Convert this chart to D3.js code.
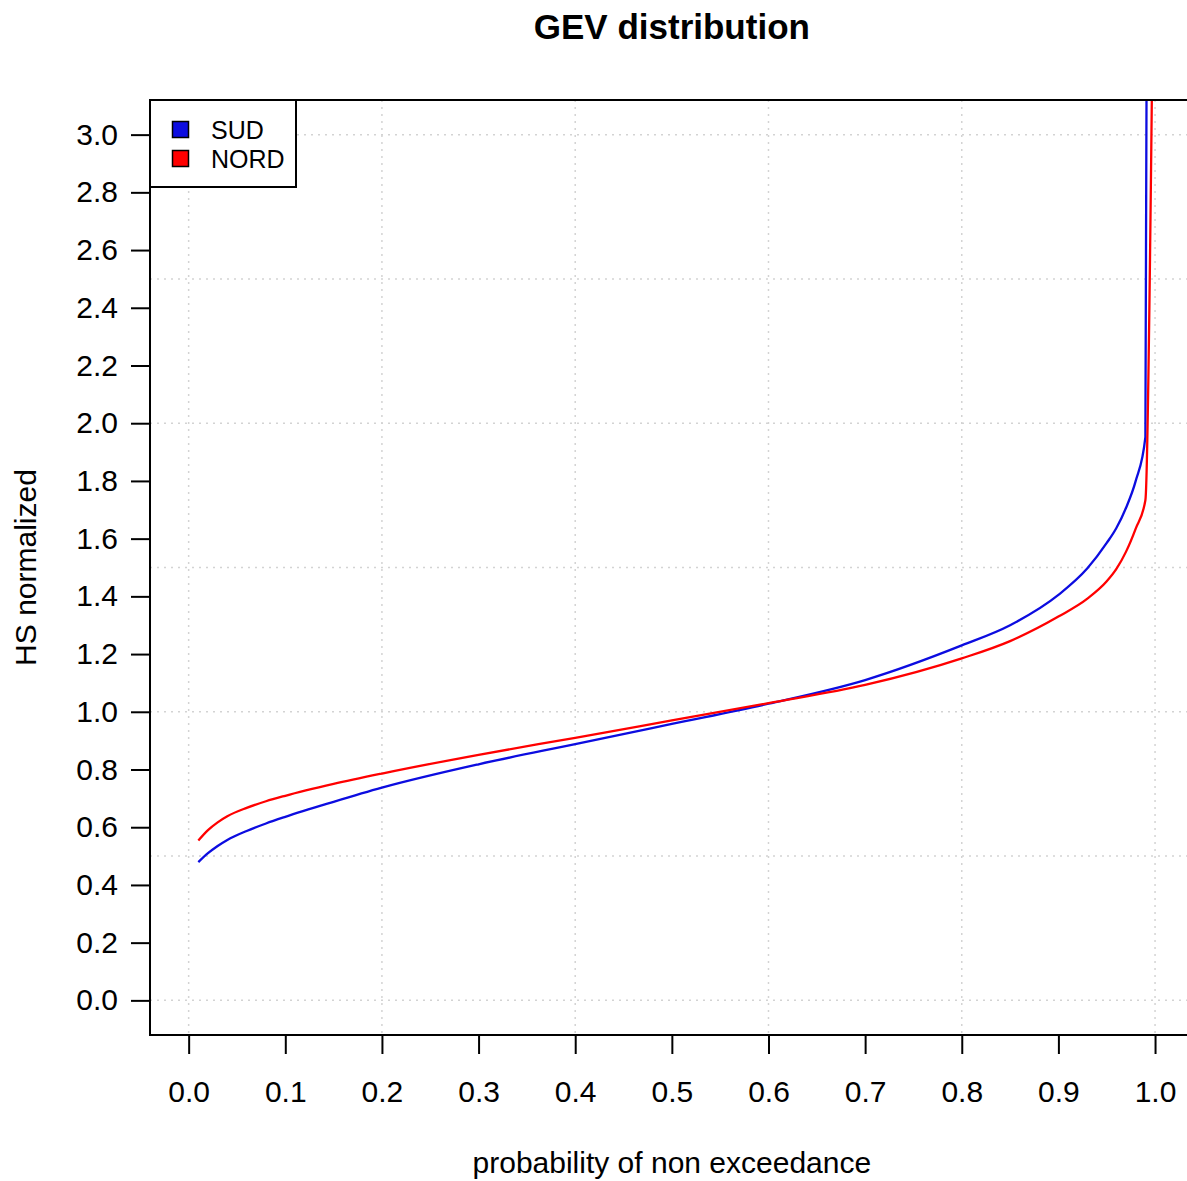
<!DOCTYPE html>
<html>
<head>
<meta charset="utf-8">
<script src="https://cdn.jsdelivr.net/npm/d3@7"></script>
<style>
  body { margin: 0; background: #fff; }
  svg text { font-family: "Liberation Sans", Arial, Helvetica, sans-serif; fill: #000; }
</style>
</head>
<body>
<div id="chart"></div>
<script>
// probabilities of non exceedance and normalized HS quantiles
var probs = [0.01, 0.02, 0.03, 0.04, 0.06, 0.08, 0.10, 0.15, 0.20, 0.30, 0.40, 0.50,
             0.60, 0.70, 0.80, 0.85, 0.90, 0.93, 0.95, 0.96, 0.97, 0.98, 0.99, 0.999];
var sud  = [0.479, 0.510, 0.535, 0.556, 0.587, 0.613, 0.636, 0.688, 0.737, 0.818, 0.888, 0.958,
            1.028, 1.110, 1.230, 1.300, 1.405, 1.497, 1.585, 1.637, 1.707, 1.800, 1.952, 11.0];
var nord = [0.554, 0.590, 0.617, 0.638, 0.667, 0.690, 0.709, 0.750, 0.786, 0.851, 0.910, 0.970,
            1.030, 1.093, 1.185, 1.245, 1.330, 1.392, 1.452, 1.495, 1.555, 1.635, 1.733, 3.9];

var seriesNames = ["SUD", "NORD"];
var seriesColors = ["#0c0ce0", "#ff0000"];

var xTicks = [0, 0.1, 0.2, 0.3, 0.4, 0.5, 0.6, 0.7, 0.8, 0.9, 1.0];
var yTicks = [0, 0.2, 0.4, 0.6, 0.8, 1.0, 1.2, 1.4, 1.6, 1.8, 2.0, 2.2, 2.4, 2.6, 2.8, 3.0];
var xGrid = [0, 0.2, 0.4, 0.6, 0.8, 1.0];
var yGrid = [0, 0.5, 1.0, 1.5, 2.0, 2.5, 3.0];

var width = 1187, height = 1181;
// plot region edges (right edge falls just outside the picture)
var pLeft = 150, pTop = 100, pBottom = 1035, pRight = 1193.7;

var svg = d3.select("#chart").append("svg")
    .attr("width", width)
    .attr("height", height);

var x = d3.scaleLinear().domain([-0.04, 1.04]).range([pLeft, pRight]);
var y = d3.scaleLinear().domain([-0.12, 3.12]).range([pBottom, pTop]);

svg.append("defs").append("clipPath")
    .attr("id", "plotclip")
    .append("rect")
    .attr("x", pLeft).attr("y", pTop)
    .attr("width", pRight - pLeft).attr("height", pBottom - pTop);

// dotted grid
var grid = svg.append("g")
    .attr("stroke", "#d3d3d3")
    .attr("stroke-width", 1.5)
    .attr("stroke-dasharray", "2,5");

grid.selectAll(".vg")
    .data(xGrid)
    .enter()
    .append("line")
    .attr("x1", function(d) { return x(d); })
    .attr("x2", function(d) { return x(d); })
    .attr("y1", pTop)
    .attr("y2", pBottom);

grid.selectAll(".hg")
    .data(yGrid)
    .enter()
    .append("line")
    .attr("x1", pLeft)
    .attr("x2", pRight)
    .attr("y1", function(d) { return y(d); })
    .attr("y2", function(d) { return y(d); });

// curves
var line = d3.line()
    .curve(d3.curveMonotoneX)
    .x(function(d) { return x(d[0]); })
    .y(function(d) { return y(d[1]); });

var curves = svg.append("g").attr("clip-path", "url(#plotclip)");
[sud, nord].forEach(function(vals, i) {
    curves.append("path")
        .datum(probs.map(function(p, j) { return [p, vals[j]]; }))
        .attr("fill", "none")
        .attr("stroke", seriesColors[i])
        .attr("stroke-width", 2.3)
        .attr("stroke-linejoin", "round")
        .attr("d", line);
});

// axes
var xAxis = svg.append("g")
    .attr("transform", "translate(0," + pBottom + ")")
    .call(d3.axisBottom(x)
        .tickValues(xTicks)
        .tickFormat(d3.format(".1f"))
        .tickSize(19)
        .tickPadding(27));

var yAxis = svg.append("g")
    .attr("transform", "translate(" + pLeft + ",0)")
    .call(d3.axisLeft(y)
        .tickValues(yTicks)
        .tickFormat(d3.format(".1f"))
        .tickSize(19)
        .tickPadding(13));

[xAxis, yAxis].forEach(function(a) {
    a.select(".domain").remove();
    a.selectAll(".tick line").attr("stroke", "#000").attr("stroke-width", 2);
    a.selectAll(".tick text")
        .attr("fill", "#000")
        .style("font-size", "30px")
        .style("font-family", "'Liberation Sans', Arial, sans-serif");
});

// box
svg.append("rect")
    .attr("x", pLeft).attr("y", pTop)
    .attr("width", pRight - pLeft).attr("height", pBottom - pTop)
    .attr("fill", "none")
    .attr("stroke", "#000")
    .attr("stroke-width", 2);

// legend
var legend = svg.append("g");
legend.append("rect")
    .attr("x", pLeft).attr("y", pTop)
    .attr("width", 146).attr("height", 87)
    .attr("fill", "#fff")
    .attr("stroke", "#000")
    .attr("stroke-width", 2);

seriesNames.forEach(function(name, i) {
    legend.append("rect")
        .attr("x", 172.5).attr("y", 121.5 + i * 29)
        .attr("width", 16).attr("height", 16)
        .attr("fill", seriesColors[i])
        .attr("stroke", "#000")
        .attr("stroke-width", 1.5);
    legend.append("text")
        .attr("x", 211).attr("y", 139 + i * 29)
        .style("font-size", "25px")
        .text(name);
});

// titles
var midX = (pLeft + pRight) / 2;
svg.append("text")
    .attr("x", midX).attr("y", 39)
    .attr("text-anchor", "middle")
    .style("font-size", "35px")
    .style("font-weight", "bold")
    .text("GEV distribution");

svg.append("text")
    .attr("x", midX).attr("y", 1173)
    .attr("text-anchor", "middle")
    .style("font-size", "30px")
    .text("probability of non exceedance");

svg.append("text")
    .attr("transform", "translate(36," + ((pTop + pBottom) / 2) + ") rotate(-90)")
    .attr("text-anchor", "middle")
    .style("font-size", "30px")
    .text("HS normalized");
</script>
</body>
</html>
